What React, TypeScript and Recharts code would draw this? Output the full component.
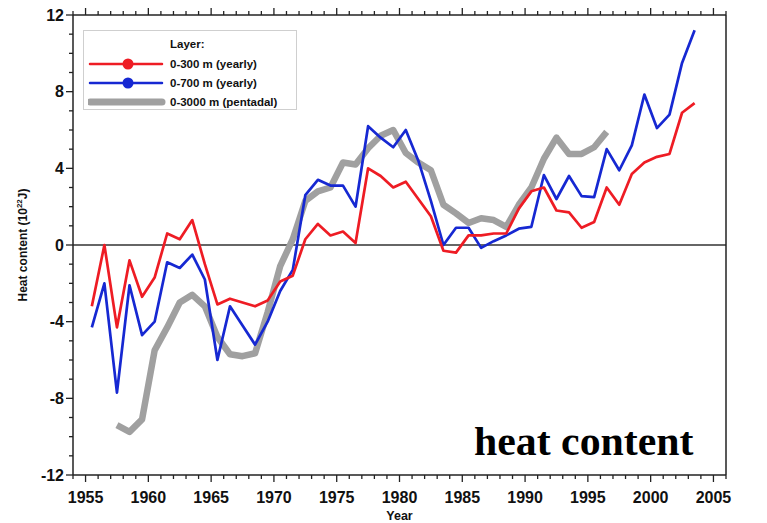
import React from "react";
import { LineChart, Line, XAxis, YAxis, ReferenceLine } from "recharts";

// yearly values are plotted at mid-year
const years = [
  1955, 1956, 1957, 1958, 1959, 1960, 1961, 1962, 1963, 1964, 1965, 1966, 1967,
  1968, 1969, 1970, 1971, 1972, 1973, 1974, 1975, 1976, 1977, 1978, 1979, 1980,
  1981, 1982, 1983, 1984, 1985, 1986, 1987, 1988, 1989, 1990, 1991, 1992, 1993,
  1994, 1995, 1996, 1997, 1998, 1999, 2000, 2001, 2002, 2003,
];

const layer300 = [
  -3.2, 0.0, -4.3, -0.8, -2.7, -1.7, 0.6, 0.3, 1.3, -1.0, -3.1, -2.8, -3.0,
  -3.2, -2.9, -1.9, -1.6, 0.3, 1.1, 0.5, 0.7, 0.1, 4.0, 3.6, 3.0, 3.3,
  2.4, 1.5, -0.3, -0.4, 0.5, 0.5, 0.6, 0.6, 1.9, 2.8, 3.0, 1.8, 1.7,
  0.9, 1.2, 3.0, 2.1, 3.7, 4.3, 4.6, 4.75, 6.9, 7.4,
];

const layer700 = [
  -4.3, -2.0, -7.7, -2.1, -4.7, -4.0, -0.9, -1.2, -0.5, -1.8, -6.0, -3.2, -4.2,
  -5.2, -4.0, -2.4, -1.3, 2.6, 3.4, 3.1, 3.1, 2.0, 6.2, 5.6, 5.1, 6.0,
  4.4, 2.3, 0.0, 0.9, 0.9, -0.15, 0.2, 0.5, 0.85, 0.95, 3.65, 2.4, 3.6,
  2.55, 2.5, 5.0, 3.9, 5.2, 7.85, 6.1, 6.8, 9.5, 11.2,
];

const pentadalYears = [
  1957, 1958, 1959, 1960, 1961, 1962, 1963, 1964, 1965, 1966, 1967, 1968, 1969,
  1970, 1971, 1972, 1973, 1974, 1975, 1976, 1977, 1978, 1979, 1980, 1981, 1982,
  1983, 1984, 1985, 1986, 1987, 1988, 1989, 1990, 1991, 1992, 1993, 1994, 1995,
  1996,
];

const layer3000 = [
  -9.4, -9.75, -9.1, -5.5, -4.3, -3.0, -2.6, -3.2, -4.8, -5.7, -5.8, -5.65, -3.5,
  -1.1, 0.3, 2.3, 2.8, 3.0, 4.3, 4.2, 5.05, 5.7, 6.0, 4.8, 4.3, 3.9,
  2.1, 1.65, 1.15, 1.4, 1.3, 0.95, 2.1, 3.0, 4.5, 5.6, 4.75, 4.75, 5.1,
  5.9,
];

const yearLabels = [1955, 1960, 1965, 1970, 1975, 1980, 1985, 1990, 1995, 2000, 2005];
const valueLabels = [-12, -8, -4, 0, 4, 8, 12];

const series = [
  { key: "l300", name: "0-300 m (yearly)", color: "#ee1c24", width: 2.7, dot: true },
  { key: "l700", name: "0-700 m (yearly)", color: "#1628d2", width: 2.7, dot: true },
  { key: "l3000", name: "0-3000 m (pentadal)", color: "#a0a0a0", width: 6.5, dot: false },
];

const data = years.map((yr, i) => {
  const p = pentadalYears.indexOf(yr);
  return {
    x: yr + 0.5,
    l300: layer300[i],
    l700: layer700[i],
    l3000: p >= 0 ? layer3000[p] : null,
  };
});

const xTicks = Array.from({ length: 53 }, (_, i) => 1954 + i);
const yTicks = Array.from({ length: 25 }, (_, i) => -12 + i);

const SANS = "'Liberation Sans', Arial, sans-serif";
const AXIS = "#222";

const XTick = (props: any) => {
  const { x, y, payload, top } = props;
  const v = payload.value;
  const major = yearLabels.includes(v);
  const len = major ? 7 : 4;
  return (
    <g>
      <line x1={x} x2={x} y1={y} y2={top ? y - len : y + len} stroke={AXIS} strokeWidth={1.3} />
      {!top && major && (
        <text x={x} y={y + 22} textAnchor="middle" dominantBaseline="central"
          fontFamily={SANS} fontWeight={700} fontSize={16} fill="#111">
          {v}
        </text>
      )}
    </g>
  );
};

const YTick = (props: any) => {
  const { x, y, payload, right } = props;
  const v = payload.value;
  const major = valueLabels.includes(v);
  const len = major ? 7 : 4;
  return (
    <g>
      <line x1={x} x2={right ? x + len : x - len} y1={y} y2={y} stroke={AXIS} strokeWidth={1.3} />
      {major && (
        <text x={right ? x + 8 : x - 9} y={y} textAnchor={right ? "start" : "end"}
          dominantBaseline="central" fontFamily={SANS} fontWeight={700} fontSize={16} fill="#111">
          {v}
        </text>
      )}
    </g>
  );
};

const YLabel = (props: any) => {
  const vb = props.viewBox || { y: 15, height: 460 };
  const cy = vb.y + vb.height / 2;
  return (
    <text transform={`translate(23, ${cy}) rotate(-90)`} textAnchor="middle" dominantBaseline="central"
      fontFamily={SANS} fontWeight={700} fontSize={12} fill="#111">
      Heat content (10<tspan dy={-4} fontSize={8}>22</tspan><tspan dy={4}>J)</tspan>
    </text>
  );
};

const LegendBox = () => (
  <div
    style={{
      position: "absolute", left: 83, top: 30, width: 212, height: 78,
      border: "1.5px solid #cfcfcf", background: "#fff", fontFamily: SANS,
      fontWeight: 700, fontSize: 11.5, color: "#111",
    }}
  >
    <div style={{ position: "absolute", left: 86, top: 7 }}>Layer:</div>
    {series.map((s, i) => (
      <div key={s.key} style={{ position: "absolute", left: 0, top: 25 + i * 19, height: 16, width: 210 }}>
        <svg width={80} height={16} style={{ position: "absolute", left: 4, top: 0 }}>
          <line x1={2} x2={74} y1={8} y2={8} stroke={s.color} strokeWidth={s.dot ? 2.5 : 7} strokeLinecap="round" />
          {s.dot && <circle cx={40} cy={8} r={5.5} fill={s.color} />}
        </svg>
        <div style={{ position: "absolute", left: 86, top: 0, lineHeight: "16px", whiteSpace: "nowrap" }}>{s.name}</div>
      </div>
    ))}
  </div>
);

export default function App() {
  return (
    <div style={{ position: "absolute", left: 0, top: 0, width: 767, height: 523, background: "#fff" }}>
      <LineChart width={767} height={523} data={data} margin={{ top: 7, right: 0, bottom: 0, left: 0 }}>
        <XAxis
          dataKey="x" type="number" domain={[1954, 2006]} ticks={xTicks} interval={0}
          height={48} tickSize={0} tickMargin={0} tickLine={false}
          axisLine={{ stroke: AXIS, strokeWidth: 1.5 }}
          tick={(p: any) => <XTick {...p} />}
          label={{ value: "Year", position: "insideBottom", offset: 3, fontFamily: SANS, fontWeight: 700, fontSize: 12.5, fill: "#111" }}
        />
        <XAxis
          xAxisId="top" orientation="top" dataKey="x" type="number" domain={[1954, 2006]}
          ticks={xTicks} interval={0} height={8} tickSize={0} tickMargin={0} tickLine={false}
          axisLine={{ stroke: AXIS, strokeWidth: 1.5 }}
          tick={(p: any) => <XTick {...p} top />}
        />
        <YAxis
          type="number" domain={[-12, 12]} ticks={yTicks} interval={0} width={73}
          tickSize={0} tickMargin={0} tickLine={false}
          axisLine={{ stroke: AXIS, strokeWidth: 1.5 }}
          tick={(p: any) => <YTick {...p} />}
          label={<YLabel />}
        />
        <YAxis
          yAxisId="right" orientation="right" type="number" domain={[-12, 12]} ticks={yTicks}
          interval={0} width={41} tickSize={0} tickMargin={0} tickLine={false}
          axisLine={{ stroke: AXIS, strokeWidth: 1.5 }}
          tick={(p: any) => <YTick {...p} right />}
        />
        <ReferenceLine y={0} stroke="#333" strokeWidth={1.5} />
        {series
          .slice()
          .reverse()
          .map((s) => (
            <Line
              key={s.key} type="linear" dataKey={s.key} stroke={s.color} strokeWidth={s.width}
              dot={false} activeDot={false} isAnimationActive={false} strokeLinejoin="round"
            />
          ))}
      </LineChart>
      <LegendBox />
      <div
        style={{
          position: "absolute", left: 474, top: 417, fontFamily: "'Liberation Serif', 'Times New Roman', serif",
          fontWeight: 700, fontSize: 41, lineHeight: "48px", color: "#000", whiteSpace: "nowrap",
          transform: "scaleX(1.02)", transformOrigin: "left top",
        }}
      >
        heat content
      </div>
    </div>
  );
}
